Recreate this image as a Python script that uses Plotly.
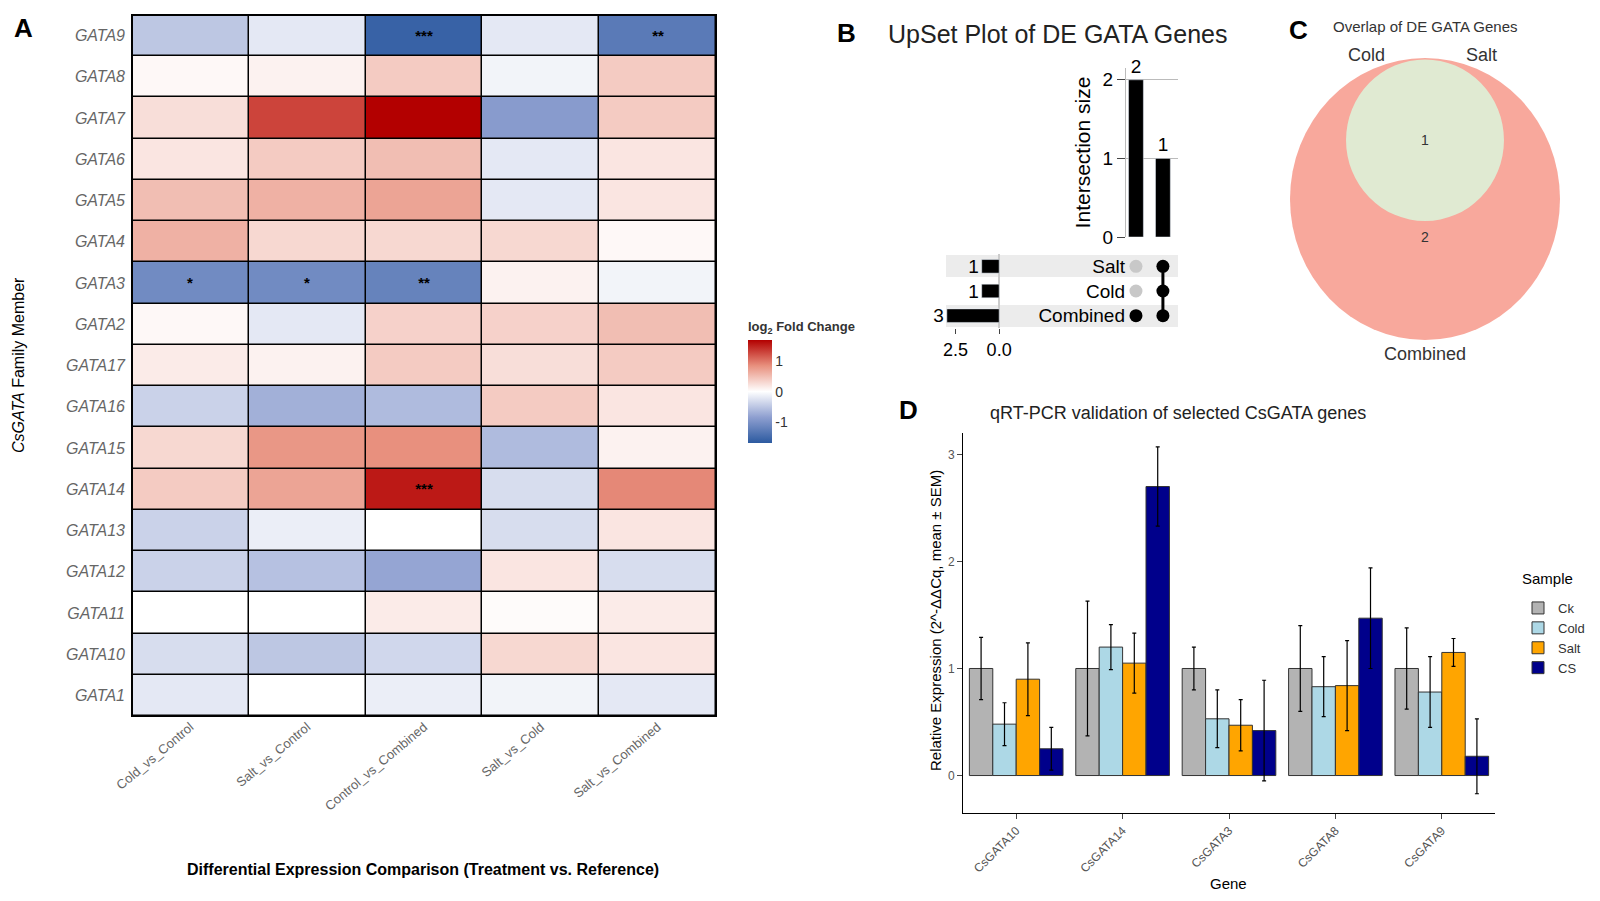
import plotly.graph_objects as go

# ---------------- data ----------------
genes = ["GATA9","GATA8","GATA7","GATA6","GATA5","GATA4","GATA3","GATA2","GATA17",
         "GATA16","GATA15","GATA14","GATA13","GATA12","GATA11","GATA10","GATA1"]
comparisons = ["Cold_vs_Control","Salt_vs_Control","Control_vs_Combined","Salt_vs_Cold","Salt_vs_Combined"]
log2fc = [
    [-0.5,-0.2,-1.6,-0.2,-1.3],
    [0.05,0.1,0.4,-0.1,0.4],
    [0.25,1.3,1.7,-0.9,0.4],
    [0.2,0.4,0.5,-0.2,0.2],
    [0.5,0.6,0.7,-0.2,0.2],
    [0.6,0.3,0.3,0.3,0.05],
    [-1.1,-1.1,-1.2,0.1,-0.1],
    [0.05,-0.2,0.35,0.35,0.5],
    [0.15,0.1,0.4,0.25,0.4],
    [-0.4,-0.7,-0.6,0.4,0.2],
    [0.3,0.8,0.85,-0.6,0.1],
    [0.4,0.7,1.55,-0.3,0.9],
    [-0.4,-0.15,0.0,-0.3,0.2],
    [-0.4,-0.55,-0.8,0.2,-0.3],
    [0.0,0.0,0.15,0.03,0.15],
    [-0.3,-0.5,-0.35,0.3,0.2],
    [-0.2,0.0,-0.15,-0.1,-0.2],
]
signif = [
    ["","","***","","**"],["","","","",""],["","","","",""],["","","","",""],
    ["","","","",""],["","","","",""],["*","*","**","",""],["","","","",""],
    ["","","","",""],["","","","",""],["","","","",""],["","","***","",""],
    ["","","","",""],["","","","",""],["","","","",""],["","","","",""],["","","","",""],
]

sets = ["Combined","Cold","Salt"]
set_sizes = [3,1,1]
intersections = [0,1]
intersection_sizes = [2,1]
membership = [["Combined"],["Combined","Cold","Salt"]]

venn_outer = 2
venn_inner = 1

qgenes = ["CsGATA10","CsGATA14","CsGATA3","CsGATA8","CsGATA9"]
samples = ["Ck","Cold","Salt","CS"]
means = {"Ck":[1,1,1,1,1],"Cold":[0.48,1.2,0.53,0.83,0.78],
         "Salt":[0.9,1.05,0.47,0.84,1.15],"CS":[0.25,2.7,0.42,1.47,0.18]}
sems = {"Ck":[0.29,0.63,0.2,0.4,0.38],"Cold":[0.2,0.21,0.27,0.28,0.33],
        "Salt":[0.34,0.28,0.24,0.42,0.13],"CS":[0.2,0.37,0.47,0.47,0.35]}
colors = {"Ck":"#b3b3b3","Cold":"#add8e6","Salt":"#ffa500","CS":"#00008b"}

def px(x): return x/1600
def py(y): return 1-y/901

fig = go.Figure()

# ---- A heatmap ----
fig.add_trace(go.Heatmap(
    z=log2fc[::-1], x=comparisons, y=genes[::-1], zmin=-1.7, zmax=1.7,
    colorscale=[[0,"#2c5aa0"],[0.25,"#8e9fd0"],[0.5,"#ffffff"],[0.75,"#e8907e"],[1,"#b30000"]],
    xgap=1.5, ygap=1.5, xaxis="x", yaxis="y",
    text=signif[::-1], texttemplate="<b>%{text}</b>", textfont=dict(size=15, color="black"),
    colorbar=dict(x=px(740), xanchor="left", y=py(373), yanchor="middle", len=125/901,
                  lenmode="fraction", thickness=24, tickvals=[-1,0,1], ticktext=["-1","0","1"],
                  outlinewidth=0, tickfont=dict(size=14, color="#333"), ypad=0, xpad=0,
                  title=dict(text="<b>log<sub>2</sub> Fold Change</b>", side="top", font=dict(size=13)))))

# ---- B upset: intersection bars ----
fig.add_trace(go.Bar(x=intersections, y=intersection_sizes, marker_color="black", width=0.55,
                     text=[str(v) for v in intersection_sizes], textposition="outside",
                     outsidetextfont=dict(size=19, color="black"), cliponaxis=False,
                     xaxis="x2", yaxis="y2", showlegend=False))
for i, mem in enumerate(membership):
    cols = ["black" if s in mem else "#c8c8c8" for s in sets]
    fig.add_trace(go.Scatter(x=[intersections[i]]*3, y=sets, mode="markers",
                             marker=dict(size=13, color=cols), xaxis="x3", yaxis="y3", showlegend=False))
    if len(mem) > 1:
        fig.add_trace(go.Scatter(x=[intersections[i]]*len(mem), y=mem, mode="lines",
                                 line=dict(color="black", width=3), xaxis="x3", yaxis="y3", showlegend=False))
fig.add_trace(go.Bar(y=sets, x=set_sizes, orientation="h", marker_color="black", width=0.55,
                     text=[str(v) for v in set_sizes], textposition="outside",
                     outsidetextfont=dict(size=19, color="black"), constraintext="none",
                     cliponaxis=False, xaxis="x4", yaxis="y4", showlegend=False))

# ---- D bars ----
for s in samples:
    fig.add_trace(go.Bar(x=qgenes, y=means[s], name=s, marker=dict(color=colors[s], line=dict(color="#333", width=1)),
                         error_y=dict(type="data", array=sems[s], color="black", thickness=1.2, width=2),
                         xaxis="x6", yaxis="y6"))

shapes = []
for yy in [258, 308]:
    shapes.append(dict(type="rect", xref="paper", yref="paper", x0=px(938), x1=px(1170),
                       y0=py(yy-11), y1=py(yy+11), fillcolor="#ececec", line_width=0, layer="below"))
# black background behind heatmap so the cell gaps read as borders
shapes.append(dict(type="rect", xref="x domain", yref="y domain", x0=0, x1=1, y0=0, y1=1,
                   fillcolor="black", line_width=0, layer="below"))
shapes.append(dict(type="rect", xref="x domain", yref="y domain", x0=0, x1=1, y0=0, y1=1,
                   line=dict(color="black", width=2)))
shapes.append(dict(type="circle", xref="x5", yref="y5", x0=-1, x1=1, y0=-1, y1=1,
                   fillcolor="#f8a89c", line_width=0))
shapes.append(dict(type="circle", xref="x5", yref="y5", x0=-0.585, x1=0.585, y0=-0.156, y1=0.99,
                   fillcolor="#e0ead2", line_width=0))

ann = []
def A(x, y, t, size, color="black", **kw):
    d = dict(x=px(x), y=py(y), xref="paper", yref="paper", text=t, showarrow=False,
             xanchor="center", yanchor="middle", font=dict(size=size, color=color))
    d.update(kw); ann.append(d)

A(15, 20, "<b>A</b>", 26)
A(838, 25, "<b>B</b>", 26)
A(1050, 26, "UpSet Plot of DE GATA Genes", 25, color="#222")
A(1290, 22, "<b>C</b>", 26)
A(1417, 18, "Overlap of DE GATA Genes", 15, color="#333")
A(1358, 47, "Cold", 18, color="#333")
A(1473, 47, "Salt", 18, color="#333")
A(1417, 346, "Combined", 18, color="#333")
A(900, 402, "<b>D</b>", 26)
A(1170, 405, "qRT-PCR validation of selected CsGATA genes", 18, color="#222")
A(1539, 570, "Sample", 15)
A(10, 357, "<i>CsGATA</i> Family Member", 16, textangle=-90)
A(415, 861, "<b>Differential Expression Comparison (Treatment vs. Reference)</b>", 16)
A(927, 613, "Relative Expression (2^-ΔΔCq, mean ± SEM)", 15, textangle=-90)
A(1220, 875, "Gene", 15)
ann.append(dict(x=0, y=0.42, xref="x5", yref="y5", text=str(venn_inner), showarrow=False, font=dict(size=14, color="#333")))
ann.append(dict(x=0, y=-0.27, xref="x5", yref="y5", text=str(venn_outer), showarrow=False, font=dict(size=14, color="#333")))

fig.update_layout(
    width=1600, height=901, paper_bgcolor="white", plot_bgcolor="white",
    margin=dict(l=0, r=0, t=0, b=0), font=dict(family="Liberation Sans, Arial", color="#333"),
    barmode="group", bargap=0.12, bargroupgap=0,
    shapes=shapes, annotations=ann,
    legend=dict(x=px(1510), y=py(585), xanchor="left", yanchor="top", font=dict(size=13), tracegroupgap=0),
    xaxis=dict(domain=[px(124), px(708)], tickangle=-40, tickfont=dict(size=13, color="#666"),
               showgrid=False, zeroline=False, ticks="", automargin=False),
    yaxis=dict(domain=[py(708), py(7)], tickvals=genes, ticktext=["<i>%s</i>" % g for g in genes],
               tickfont=dict(size=16, color="#666"), ticks="", showgrid=False, automargin=False, ticklabelstandoff=6),
    xaxis2=dict(domain=[px(1118), px(1170)], range=[-0.37, 1.56], visible=False, anchor="y2", automargin=False),
    yaxis2=dict(domain=[py(229), py(60)], range=[0, 2.15], tickvals=[0,1,2], ticks="outside",
                ticklen=8, tickfont=dict(size=19, color="black"), showgrid=True, gridcolor="#bbb",
                showline=True, linecolor="#bbb", anchor="x2", automargin=False,
                title=dict(text="Intersection size", font=dict(size=21, color="black"), standoff=6)),
    xaxis3=dict(domain=[px(1118), px(1170)], range=[-0.37, 1.56], visible=False, anchor="y3", automargin=False),
    yaxis3=dict(domain=[py(320), py(246)], range=[-0.5, 2.5], categoryorder="array", categoryarray=sets,
                tickfont=dict(size=19, color="black"), showline=False, showgrid=False, ticks="",
                anchor="x3", automargin=False),
    xaxis4=dict(domain=[px(938), px(992)], range=[3.05, -0.05], tickvals=[2.5, 0], ticktext=["2.5","0.0"],
                ticks="outside", tickfont=dict(size=18, color="black"), showline=False, showgrid=False,
                zeroline=True, zerolinecolor="#ccc", anchor="y4", automargin=False),
    yaxis4=dict(domain=[py(320), py(246)], range=[-0.5, 2.5], categoryorder="array", categoryarray=sets,
                visible=False, anchor="x4", automargin=False),
    xaxis5=dict(domain=[px(1282), px(1552)], range=[-1, 1], visible=False, anchor="y5", automargin=False),
    yaxis5=dict(domain=[py(332), py(50)], range=[-1, 1], visible=False, anchor="x5", automargin=False),
    xaxis6=dict(domain=[px(955), px(1487)], tickangle=-45, tickfont=dict(size=12, color="#555"),
                showline=True, linecolor="black", ticks="outside", anchor="y6", automargin=False),
    yaxis6=dict(domain=[py(805), py(425)], range=[-0.35, 3.2], tickvals=[0,1,2,3], showgrid=False,
                zeroline=False, showline=True, linecolor="black", ticks="outside",
                tickfont=dict(size=12, color="#555"), anchor="x6", automargin=False),
)
fig.write_html("out.html")
